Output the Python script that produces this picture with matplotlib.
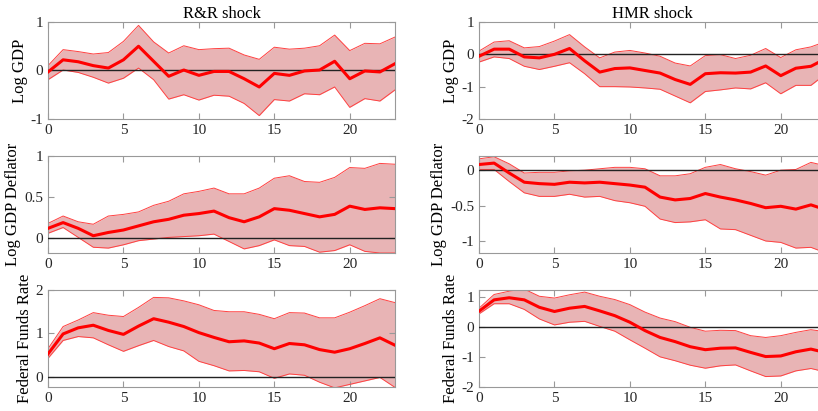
import numpy as np
import matplotlib
matplotlib.use("Agg")
import matplotlib.pyplot as plt

plt.rcParams['font.family'] = ['Liberation Serif', 'DejaVu Serif']

h = np.arange(24)

# R&R shock
rr_gdp_med = [-0.03, 0.22, 0.18, 0.10, 0.05, 0.22, 0.50, 0.19, -0.12, 0.01, -0.10, -0.02,
              -0.02, -0.17, -0.34, -0.06, -0.10, -0.01, 0.01, 0.19, -0.17, -0.01, -0.03, 0.14]
rr_gdp_hi = [0.10, 0.43, 0.39, 0.34, 0.37, 0.60, 0.93, 0.59, 0.36, 0.51, 0.43, 0.45,
             0.46, 0.32, 0.23, 0.48, 0.44, 0.46, 0.51, 0.73, 0.41, 0.56, 0.55, 0.69]
rr_gdp_lo = [-0.19, 0.01, -0.04, -0.14, -0.26, -0.16, 0.05, -0.19, -0.59, -0.50, -0.61, -0.51,
             -0.53, -0.68, -0.93, -0.60, -0.63, -0.48, -0.50, -0.34, -0.76, -0.58, -0.63, -0.40]

rr_def_med = [0.12, 0.19, 0.12, 0.03, 0.07, 0.10, 0.15, 0.20, 0.23, 0.28, 0.30, 0.33,
              0.25, 0.20, 0.26, 0.36, 0.34, 0.30, 0.26, 0.29, 0.39, 0.35, 0.37, 0.36]
rr_def_hi = [0.18, 0.27, 0.20, 0.17, 0.27, 0.29, 0.32, 0.40, 0.45, 0.54, 0.57, 0.61,
             0.54, 0.54, 0.61, 0.73, 0.76, 0.69, 0.68, 0.74, 0.86, 0.85, 0.91, 0.90]
rr_def_lo = [0.06, 0.13, 0.01, -0.11, -0.12, -0.08, -0.03, -0.01, 0.01, 0.02, 0.03, 0.05,
             -0.04, -0.13, -0.09, -0.02, -0.09, -0.10, -0.17, -0.15, -0.08, -0.16, -0.18, -0.18]

rr_ffr_med = [0.53, 0.99, 1.13, 1.19, 1.07, 0.98, 1.17, 1.34, 1.26, 1.16, 1.02, 0.91,
              0.81, 0.83, 0.78, 0.65, 0.77, 0.74, 0.63, 0.57, 0.65, 0.77, 0.90, 0.73]
rr_ffr_hi = [0.65, 1.16, 1.31, 1.48, 1.42, 1.39, 1.60, 1.83, 1.82, 1.75, 1.66, 1.53,
             1.50, 1.50, 1.44, 1.34, 1.48, 1.47, 1.36, 1.36, 1.49, 1.64, 1.80, 1.71]
rr_ffr_lo = [0.43, 0.84, 0.93, 0.90, 0.74, 0.59, 0.72, 0.84, 0.70, 0.60, 0.36, 0.26,
             0.14, 0.15, 0.12, -0.03, 0.07, 0.04, -0.12, -0.25, -0.17, -0.09, -0.01, -0.24]

# HMR shock
hmr_gdp_med = [-0.06, 0.16, 0.16, -0.08, -0.11, 0.00, 0.18, -0.20, -0.55, -0.44, -0.42, -0.50,
               -0.58, -0.78, -0.93, -0.60, -0.57, -0.58, -0.55, -0.36, -0.66, -0.43, -0.37, -0.13]
hmr_gdp_hi = [0.10, 0.38, 0.42, 0.20, 0.24, 0.41, 0.61, 0.23, -0.11, 0.07, 0.12, 0.04,
              -0.06, -0.27, -0.36, -0.04, -0.01, -0.13, -0.03, 0.18, -0.10, 0.14, 0.23, 0.40]
hmr_gdp_lo = [-0.24, -0.08, -0.13, -0.37, -0.47, -0.37, -0.26, -0.60, -1.00, -1.00, -1.01, -1.04,
              -1.08, -1.29, -1.50, -1.15, -1.10, -1.04, -1.07, -0.88, -1.22, -0.96, -0.96, -0.60]

hmr_def_med = [0.08, 0.10, -0.04, -0.17, -0.19, -0.20, -0.17, -0.18, -0.17, -0.19, -0.21, -0.24,
               -0.38, -0.42, -0.40, -0.33, -0.38, -0.42, -0.47, -0.53, -0.51, -0.55, -0.49, -0.56]
hmr_def_hi = [0.16, 0.19, 0.09, -0.04, -0.03, -0.03, -0.01, 0.00, 0.02, 0.04, 0.04, 0.02,
              -0.08, -0.08, -0.05, 0.04, 0.08, 0.02, -0.02, -0.07, 0.00, 0.01, 0.11, 0.06]
hmr_def_lo = [0.01, 0.01, -0.16, -0.32, -0.37, -0.37, -0.34, -0.38, -0.37, -0.43, -0.46, -0.51,
              -0.69, -0.74, -0.73, -0.70, -0.83, -0.84, -0.92, -1.00, -1.02, -1.10, -1.09, -1.17]

hmr_ffr_med = [0.54, 0.92, 0.99, 0.92, 0.67, 0.53, 0.64, 0.70, 0.55, 0.39, 0.17, -0.11,
               -0.34, -0.48, -0.65, -0.75, -0.70, -0.69, -0.84, -0.98, -0.96, -0.82, -0.73, -0.85]
hmr_ffr_hi = [0.64, 1.10, 1.21, 1.28, 1.04, 0.98, 1.09, 1.18, 1.04, 0.93, 0.76, 0.51,
              0.31, 0.19, 0.00, -0.13, -0.10, -0.11, -0.28, -0.34, -0.28, -0.17, -0.08, -0.15]
hmr_ffr_lo = [0.45, 0.79, 0.79, 0.60, 0.28, 0.08, 0.17, 0.20, 0.03, -0.13, -0.42, -0.70,
              -0.99, -1.12, -1.27, -1.37, -1.29, -1.26, -1.46, -1.65, -1.63, -1.46, -1.38, -1.50]

titles = ["R&R shock", "HMR shock"]
ylabels = ["Log GDP", "Log GDP Deflator", "Federal Funds Rate"]

panels = [
    [(rr_gdp_med, rr_gdp_lo, rr_gdp_hi), (hmr_gdp_med, hmr_gdp_lo, hmr_gdp_hi)],
    [(rr_def_med, rr_def_lo, rr_def_hi), (hmr_def_med, hmr_def_lo, hmr_def_hi)],
    [(rr_ffr_med, rr_ffr_lo, rr_ffr_hi), (hmr_ffr_med, hmr_ffr_lo, hmr_ffr_hi)],
]
ylims = [[(-1, 1), (-2, 1)], [(-0.18, 1), (-1.17, 0.2)], [(-0.23, 2), (-2, 1.25)]]
yticks = [[[-1, 0, 1], [-2, -1, 0, 1]],
          [[0, 0.5, 1], [-1, -0.5, 0]],
          [[0, 1, 2], [-2, -1, 0, 1]]]

fig = plt.figure(figsize=(8.18, 4.11), dpi=100)

lefts = [0.0587, 0.5856]
width = 0.4242
bottoms = [0.7105, 0.3844, 0.0584]
height = 0.236

for r in range(3):
    for c in range(2):
        ax = fig.add_axes([lefts[c], bottoms[r], width, height])
        med, lo, hi = panels[r][c]
        ax.fill_between(h, lo, hi, color='#e8b4b5', lw=0, zorder=1)
        ax.plot(h, hi, color='#ff4040', lw=0.7, zorder=2)
        ax.plot(h, lo, color='#ff4040', lw=0.7, zorder=2)
        ax.axhline(0, color='#222222', lw=1.0, zorder=3)
        ax.plot(h, med, color='#ff0000', lw=2.2, zorder=4)
        ax.set_xlim(0, 23)
        ax.set_ylim(*ylims[r][c])
        ax.set_xticks([0, 5, 10, 15, 20])
        ax.set_yticks(yticks[r][c])
        ax.set_yticklabels([f"{t:g}" for t in yticks[r][c]])
        ax.tick_params(direction='in', top=True, right=True, length=4,
                       color='#999999', labelsize=11, labelcolor='#262626')
        for s in ax.spines.values():
            s.set_color('#999999')
            s.set_linewidth(0.8)
        if c == 0 or True:
            ax.set_ylabel(ylabels[r], fontsize=12, labelpad=2)
        if r == 0:
            ax.set_title(titles[c], fontsize=12, pad=3)

fig.savefig("out.png", dpi=100)
